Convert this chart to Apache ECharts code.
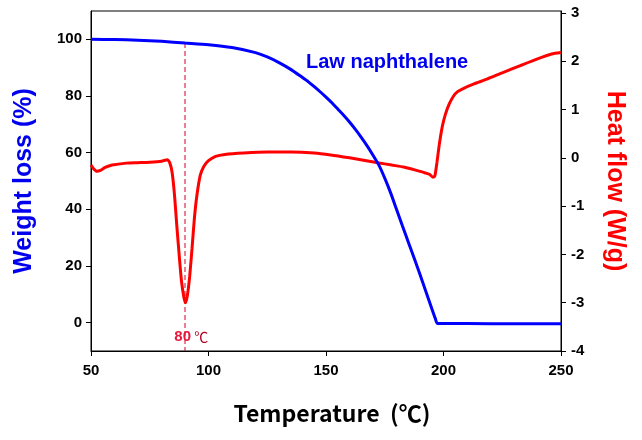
<!DOCTYPE html>
<html>
<head>
<meta charset="utf-8">
<script src="https://cdn.jsdelivr.net/npm/echarts@6/dist/echarts.min.js"></script>
<style>html,body{margin:0;padding:0;background:#fff}#c{width:642px;height:440px}</style>
</head>
<body>
<div id="c"></div>
<script>
// Temperature (°C), weight (%) for the TGA curve
const tgaTemp = [50,60,70,80,90,100,110,120,125,130,135,140,142.5,145,147.5,150,152.5,155,157.5,160,162.5,165,167.5,170,172.5,175,177.5,180,182.5,185,187.5,190,192.5,195,196.5,197.5,210,230,250];
const tgaWeight = [100,99.9,99.7,99.3,98.7,98.1,97.1,95.3,93.8,91.8,89.4,86.5,85.0,83.3,81.5,79.6,77.6,75.4,73.2,70.8,68.2,65.4,62.4,59.1,55.6,51.0,45.8,40.0,34.2,28.5,22.8,17.0,11.0,5.0,1.5,-0.3,-0.3,-0.4,-0.4];
// Temperature (°C), heat flow (W/g) for the DSC curve
const dscTemp = [50,51,52.5,54,56,59,65,70,75,80,82.5,83.5,84.5,85.5,86.5,87.5,88.5,89.5,90.2,91,92,93,94,95,96.5,98,100,103,107,115,125,135,145,152,160,166,172,178,183,187,190,192,194,195.5,196.3,197.2,198,198.6,199.5,200.8,202.5,204.3,206,208.6,213,218.5,225,232.7,240,246,250];
const dscHeat = [-0.15,-0.22,-0.28,-0.26,-0.2,-0.15,-0.11,-0.1,-0.09,-0.07,-0.04,-0.1,-0.3,-0.75,-1.4,-2.0,-2.55,-2.88,-3.0,-2.85,-2.45,-1.87,-1.25,-0.8,-0.36,-0.18,-0.06,0.03,0.07,0.1,0.12,0.12,0.1,0.06,0.0,-0.05,-0.1,-0.15,-0.19,-0.24,-0.28,-0.31,-0.34,-0.4,-0.38,-0.1,0.2,0.4,0.65,0.9,1.12,1.28,1.37,1.44,1.53,1.63,1.76,1.91,2.05,2.15,2.18];
// melting marker (vertical dashed guide): temperature and weight-axis span
const meltTemp = [90,90];
const meltSpan = [98.7,-10];
const xTicks = [50,100,150,200,250];
const leftTicks = [0,20,40,60,80,100];
const rightTicks = [-4,-3,-2,-1,0,1,2,3];
const seriesLabel = 'Law naphthalene';
const meltLabel = '80';

const tga = tgaTemp.map((t,i)=>[t,tgaWeight[i]]);
const dsc = dscTemp.map((t,i)=>[t,dscHeat[i]]);
const melt = meltTemp.map((t,i)=>[t,meltSpan[i]]);
const AR = 'Liberation Sans, Arial, sans-serif';
const tickFont = {color:'#000',fontWeight:'bold',fontSize:15,fontFamily:AR};

const chart = echarts.init(document.getElementById('c'), null, {renderer:'canvas'});
chart.setOption({
  animation:false,
  backgroundColor:'#fff',
  grid:{left:91,right:81,top:11,bottom:89,show:true,borderColor:'#000',borderWidth:1,backgroundColor:'transparent'},
  xAxis:{type:'value',min:50,max:250,interval:50,
    name:'Temperature  (℃)',nameLocation:'middle',nameGap:51,
    nameTextStyle:{color:'#000',fontWeight:'bold',fontSize:23,fontFamily:'Noto Sans CJK KR, sans-serif',padding:[0,0,0,12]},
    axisLine:{onZero:false,lineStyle:{color:'#000',width:1}},
    axisTick:{show:true,inside:false,length:5,lineStyle:{color:'#000'}},
    axisLabel:Object.assign({margin:12},tickFont),
    splitLine:{show:false}},
  yAxis:[
    {type:'value',min:-10,max:110,position:'left',
      name:'Weight loss (%)',nameLocation:'middle',nameGap:54,nameRotate:90,
      nameTextStyle:{color:'#0000ee',fontWeight:'bold',fontSize:25,fontFamily:AR},
      axisLine:{show:true,onZero:false,lineStyle:{color:'#000'}},
      axisTick:{show:true,length:5,customValues:leftTicks,lineStyle:{color:'#000'}},
      axisLabel:Object.assign({margin:9,customValues:leftTicks},tickFont),
      splitLine:{show:false}},
    {type:'value',min:-4,max:3.04,position:'right',
      name:'Heat flow (W/g)',nameLocation:'middle',nameGap:41,nameRotate:-90,
      nameTextStyle:{color:'#ff0000',fontWeight:'bold',fontSize:25,fontFamily:AR},
      axisLine:{show:true,onZero:false,lineStyle:{color:'#000'}},
      axisTick:{show:true,length:5,customValues:rightTicks,lineStyle:{color:'#000'}},
      axisLabel:Object.assign({margin:10,customValues:rightTicks},tickFont),
      splitLine:{show:false}}
  ],
  series:[
    {type:'line',name:'melt',data:melt,yAxisIndex:0,showSymbol:false,symbol:'none',silent:true,
      lineStyle:{color:'#d4002a',width:1,type:[5,3]},itemStyle:{color:'#d4002a'},z:1},
    {type:'line',name:'TGA',data:tga,yAxisIndex:0,showSymbol:false,symbol:'none',
      smooth:0.25,
      lineStyle:{color:'#0000ff',width:3},itemStyle:{color:'#0000ff'},z:3,
      markPoint:{silent:true,symbol:'circle',symbolSize:0,
        data:[{coord:[176,92],label:{show:true,formatter:seriesLabel,color:'#0000ee',fontWeight:'bold',fontSize:20,fontFamily:AR,position:'inside'}}]}},
    {type:'line',name:'DSC',data:dsc,yAxisIndex:1,showSymbol:false,symbol:'none',
      smooth:0.2,
      lineStyle:{color:'#ff0000',width:3},itemStyle:{color:'#ff0000'},z:2,
      markPoint:{silent:true,symbol:'circle',symbolSize:0,
        data:[{coord:[92.7,-3.7],label:{show:true,position:'inside',
          formatter:'{a|'+meltLabel+'} {b|℃}',
          rich:{a:{color:'#e8173a',fontWeight:'bold',fontSize:15,fontFamily:AR},
                b:{color:'#b00020',fontSize:14,fontFamily:'Noto Sans CJK KR, sans-serif'}}}}]}}
  ]
});
</script>
</body>
</html>
